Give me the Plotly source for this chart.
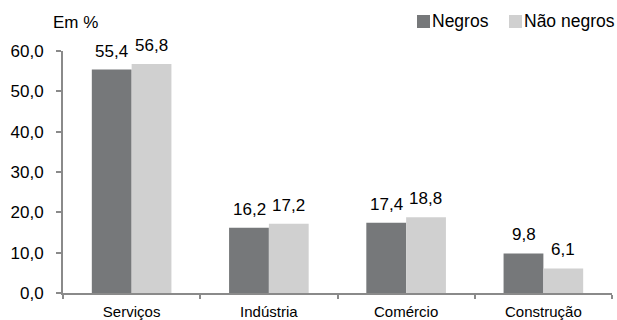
import plotly.graph_objects as go

categories = ["Serviços", "Indústria", "Comércio", "Construção"]
negros = [55.4, 16.2, 17.4, 9.8]
nao_negros = [56.8, 17.2, 18.8, 6.1]
y_ticks = [0, 10, 20, 30, 40, 50, 60]
series_names = ["Negros", "Não negros"]
series_colors = ["#76787a", "#d0d0d0"]

W, H = 617, 320
L, R, T, B = 63, 5, 51, 27
pw, ph = W - L - R, H - T - B


def px(x):
    return (x - L) / pw


def py(y):
    return (H - B - y) / ph


fig = go.Figure()
for name, vals, col in zip(series_names, [negros, nao_negros], series_colors):
    fig.add_bar(x=categories, y=vals, name=name, marker_color=col,
                marker_line_width=0, showlegend=False)

bar_w = 39.5
for k, vals in enumerate([negros, nao_negros]):
    off = (-0.5 if k == 0 else 0.5) * bar_w
    for c, v in zip(categories, vals):
        fig.add_annotation(x=c, y=v, xref="x", yref="y", text=f"{v:.1f}".replace(".", ","),
                           showarrow=False, xshift=off, yshift=7, yanchor="bottom",
                           font=dict(size=17, color="#000"))

# legend
lx = [417, 509]
for name, col, x0 in zip(series_names, series_colors, lx):
    fig.add_shape(type="rect", xref="paper", yref="paper",
                  x0=px(x0), x1=px(x0 + 13), y0=py(28), y1=py(15),
                  fillcolor=col, line_width=0)
    fig.add_annotation(text=name, xref="paper", yref="paper", x=px(x0 + 13), y=py(21),
                       xanchor="left", yanchor="middle", showarrow=False,
                       font=dict(size=17.5, color="#000"))

fig.add_annotation(text="Em %", xref="paper", yref="paper", x=px(51), y=py(22),
                   xanchor="left", yanchor="middle", showarrow=False,
                   font=dict(size=17, color="#000"))

fig.update_layout(
    width=W, height=H,
    margin=dict(l=L, r=R, t=T, b=B, autoexpand=False),
    barmode="group", bargap=0.42, bargroupgap=0,
    paper_bgcolor="white", plot_bgcolor="white",
    font=dict(family="Liberation Sans, Arial", color="#000"),
    separators=",.",
    showlegend=False,
)
fig.update_yaxes(range=[0, 60], tickvals=y_ticks, tickformat=".1f",
                 showgrid=False, showline=True, linecolor="#8a8a8a", linewidth=2,
                 ticks="outside", tickcolor="#8a8a8a", ticklen=5, tickwidth=2,
                 tickfont=dict(size=17), zeroline=False, ticklabelstandoff=9,
                 automargin=False)
fig.update_xaxes(showline=True, linecolor="#8a8a8a", linewidth=2,
                 ticks="outside", tickson="boundaries", tickcolor="#8a8a8a",
                 ticklen=4, tickwidth=2, tickfont=dict(size=15), ticklabelstandoff=4,
                 automargin=False)
fig.write_html("out.html")
